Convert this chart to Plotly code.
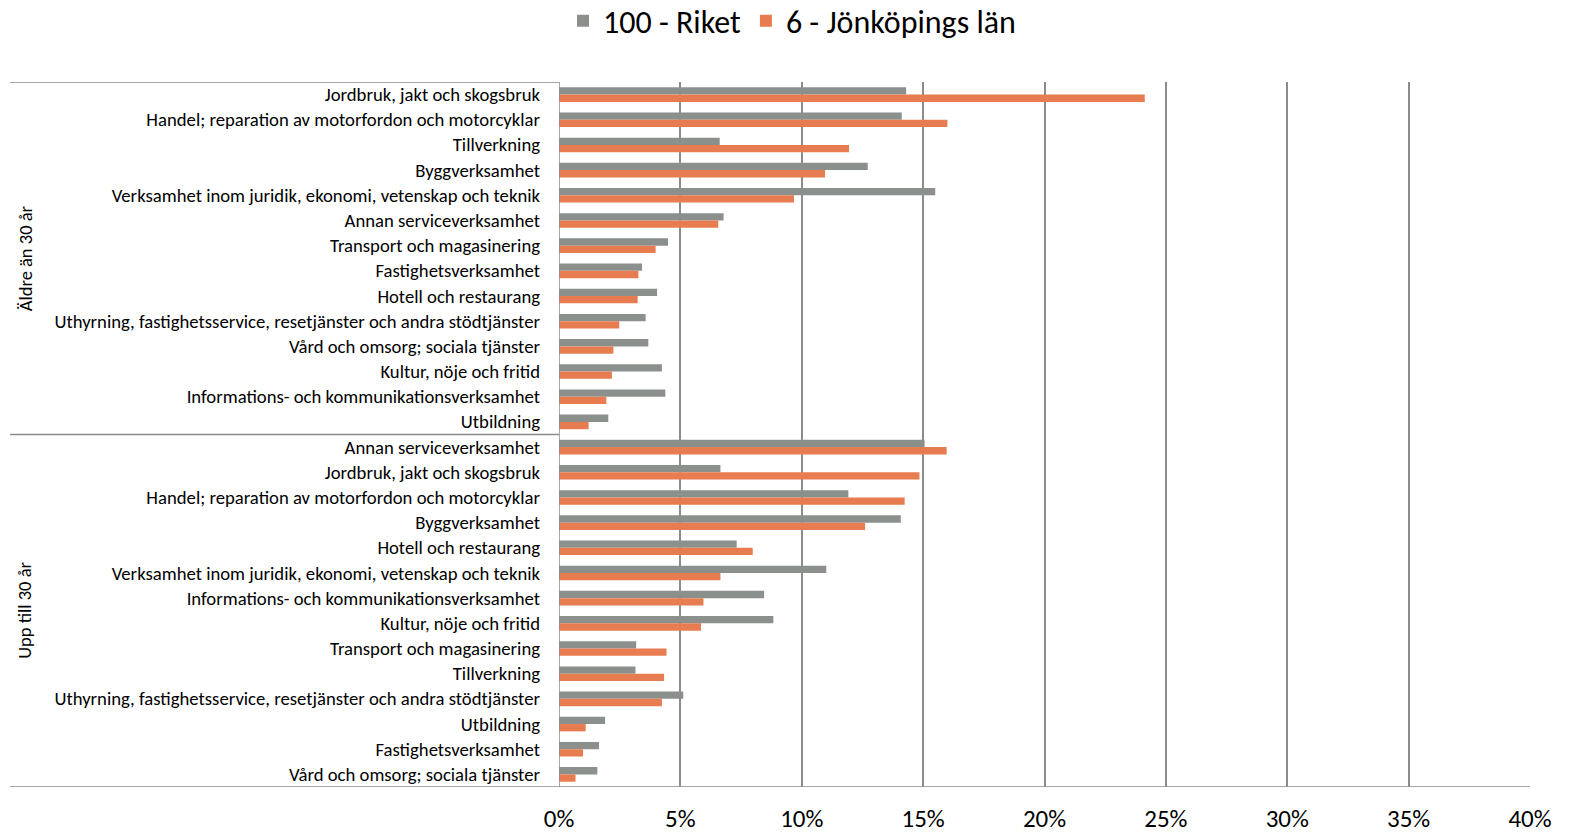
import plotly.graph_objects as go

groups = ["Äldre än 30 år", "Upp till 30 år"]

cats_older = [
    "Jordbruk, jakt och skogsbruk",
    "Handel; reparation av motorfordon och motorcyklar",
    "Tillverkning",
    "Byggverksamhet",
    "Verksamhet inom juridik, ekonomi, vetenskap och teknik",
    "Annan serviceverksamhet",
    "Transport och magasinering",
    "Fastighetsverksamhet",
    "Hotell och restaurang",
    "Uthyrning, fastighetsservice, resetjänster och andra stödtjänster",
    "Vård och omsorg; sociala tjänster",
    "Kultur, nöje och fritid",
    "Informations- och kommunikationsverksamhet",
    "Utbildning",
]
riket_older = [14.30, 14.12, 6.62, 12.72, 15.50, 6.78, 4.49, 3.42, 4.04, 3.57, 3.68, 4.24, 4.38, 2.03]
jkpg_older = [24.13, 16.00, 11.95, 10.96, 9.68, 6.56, 3.98, 3.27, 3.24, 2.48, 2.24, 2.18, 1.95, 1.22]

cats_young = [
    "Annan serviceverksamhet",
    "Jordbruk, jakt och skogsbruk",
    "Handel; reparation av motorfordon och motorcyklar",
    "Byggverksamhet",
    "Hotell och restaurang",
    "Verksamhet inom juridik, ekonomi, vetenskap och teknik",
    "Informations- och kommunikationsverksamhet",
    "Kultur, nöje och fritid",
    "Transport och magasinering",
    "Tillverkning",
    "Uthyrning, fastighetsservice, resetjänster och andra stödtjänster",
    "Utbildning",
    "Fastighetsverksamhet",
    "Vård och omsorg; sociala tjänster",
]
riket_young = [15.06, 6.65, 11.92, 14.08, 7.32, 11.01, 8.45, 8.83, 3.18, 3.15, 5.12, 1.90, 1.65, 1.58]
jkpg_young = [15.97, 14.85, 14.24, 12.61, 7.98, 6.65, 5.95, 5.85, 4.43, 4.33, 4.24, 1.10, 0.99, 0.68]

series_names = ["100 - Riket", "6 - Jönköpings län"]
x_ticks = [0, 5, 10, 15, 20, 25, 30, 35, 40]
x_ticktext = [f"{v}%" for v in x_ticks]

GRAY = "#8B908D"
ORANGE = "#E67C4F"
FONT = "Carlito, Calibri, Lato, sans-serif"

labels = cats_older + cats_young
pos = list(range(len(labels)))
riket = riket_older + riket_young
jkpg = jkpg_older + jkpg_young

fig = go.Figure()
fig.add_trace(go.Bar(y=pos, x=riket, orientation="h", name=series_names[0],
                     marker=dict(color=GRAY, line=dict(width=0))))
fig.add_trace(go.Bar(y=pos, x=jkpg, orientation="h", name=series_names[1],
                     marker=dict(color=ORANGE, line=dict(width=0))))

n_old = len(cats_older)
n_all = len(labels)
line_col = "#8C8C8C"

W, H = 1569, 834
plot_left, plot_right = 559, 1530
plot_top, plot_bottom = 82, 787
left_px = 10
plot_w = plot_right - plot_left
plot_h = plot_bottom - plot_top
x0_paper = (left_px - plot_left) / plot_w

shapes = []
for yb in [-0.5, n_old - 0.5]:
    shapes.append(dict(type="line", xref="paper", yref="y", x0=x0_paper, x1=0,
                       y0=yb, y1=yb, line=dict(color=line_col, width=1.5)))
shapes.append(dict(type="line", xref="paper", yref="y", x0=x0_paper, x1=1,
                   y0=n_all - 0.5, y1=n_all - 0.5, line=dict(color=line_col, width=1.5)))
shapes.append(dict(type="line", xref="x", yref="y", x0=0, x1=0,
                   y0=-0.5, y1=n_all - 0.5, line=dict(color=line_col, width=1.5)))

annotations = []
gx = (25 - plot_left) / plot_w
for g, (a, b) in zip(groups, [(0, n_old - 1), (n_old, n_all - 1)]):
    annotations.append(dict(text=g, xref="paper", yref="y", x=gx, y=(a + b) / 2,
                            textangle=-90, showarrow=False, xanchor="center", yanchor="middle",
                            font=dict(size=18.5, color="#000000", family=FONT)))

fig.update_layout(
    width=W, height=H,
    paper_bgcolor="white", plot_bgcolor="white",
    barmode="group", bargap=0.42, bargroupgap=0.0,
    margin=dict(l=plot_left, r=W - plot_right, t=plot_top, b=H - plot_bottom,
                pad=0, autoexpand=False),
    font=dict(family=FONT, color="#000000"),
    legend=dict(orientation="h", x=(792 - plot_left) / plot_w, xanchor="center",
                y=1 + (plot_top - 21) / plot_h, yanchor="middle",
                font=dict(size=32, family=FONT, color="#000000"),
                itemwidth=30, traceorder="normal"),
    shapes=shapes,
    annotations=annotations,
    xaxis=dict(range=[0, 40], tickvals=x_ticks, ticktext=x_ticktext,
               showgrid=True, gridcolor=line_col, gridwidth=1.5,
               zeroline=False, showline=False, ticks="",
               ticklabelstandoff=14,
               tickfont=dict(size=25, family=FONT, color="#000000")),
    yaxis=dict(range=[n_all - 0.5, -0.5], tickvals=pos, ticktext=labels,
               showgrid=False, zeroline=False, showline=False, ticks="",
               ticklabelstandoff=18,
               tickfont=dict(size=18.7, family=FONT, color="#000000")),
)

fig.write_html("out.html", config={"displayModeBar": False},
               post_script="document.body.style.margin='0';document.body.style.overflow='hidden';")
